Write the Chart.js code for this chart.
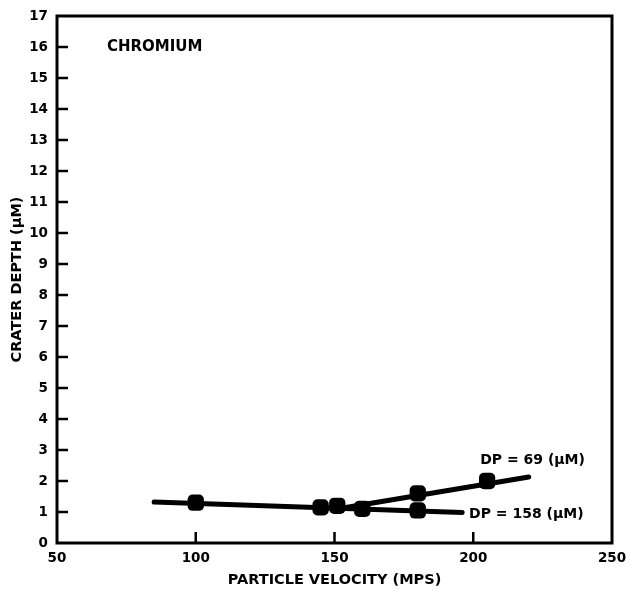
<!DOCTYPE html>
<html><head><meta charset="utf-8">
<script src="https://cdn.jsdelivr.net/npm/chart.js@4"></script>
<style>html,body{margin:0;padding:0;background:#fff}#wrap{width:631px;height:594px}</style>
</head><body><div id="wrap"><canvas id="c" width="631" height="594"></canvas></div>
<script>
// Measured data points
const dp158X = [100, 145, 151, 160, 180];
const dp158Y = [1.3, 1.15, 1.2, 1.1, 1.05];
const dp69X = [180, 205];
const dp69Y = [1.6, 2.0];
// Fitted lines (end points as drawn)
const fit158X = [85, 196];
const fit158Y = [1.32, 0.98];
const fit69X = [153, 220];
const fit69Y = [1.13, 2.13];
// Axis ticks
const xTicks = [50, 100, 150, 200, 250];
const yMax = 17;
const labels = ["DP = 69 (\u03bcM)", "DP = 158 (\u03bcM)", "CHROMIUM"];

const pts = (xs, ys) => xs.map((x, i) => ({x, y: ys[i]}));
const FONT = "'DejaVu Sans', sans-serif";

const frame = {
  id: 'frame',
  afterDraw(chart) {
    const {ctx, chartArea: a, scales: {x, y}} = chart;
    ctx.save();
    ctx.strokeStyle = '#000';
    ctx.lineWidth = 3;
    ctx.strokeRect(a.left, a.top, a.right - a.left, a.bottom - a.top);
    ctx.lineWidth = 2.5;
    ctx.beginPath();
    for (let v = 1; v < yMax; v++) {
      const py = y.getPixelForValue(v);
      ctx.moveTo(a.left, py); ctx.lineTo(a.left + 11, py);
    }
    xTicks.slice(1, -1).forEach(v => {
      const px = x.getPixelForValue(v);
      ctx.moveTo(px, a.bottom); ctx.lineTo(px, a.bottom - 11);
    });
    ctx.stroke();
    ctx.fillStyle = '#000';
    ctx.font = 'bold 14px ' + FONT;
    ctx.textBaseline = 'middle';
    ctx.fillText(labels[0], x.getPixelForValue(202.5), y.getPixelForValue(2.67));
    ctx.fillText(labels[1], x.getPixelForValue(198.5), y.getPixelForValue(0.93));
    ctx.font = 'bold 15px ' + FONT;
    ctx.fillText(labels[2], x.getPixelForValue(68), y.getPixelForValue(16.0));
    ctx.restore();
  }
};

new Chart(document.getElementById('c'), {
  type: 'scatter',
  data: {
    datasets: [
      {data: pts(fit158X, fit158Y), showLine: true, borderColor: '#000', borderWidth: 5, pointRadius: 0, borderCapStyle: 'round'},
      {data: pts(fit69X, fit69Y), showLine: true, borderColor: '#000', borderWidth: 5, pointRadius: 0, borderCapStyle: 'round'},
      {data: pts(dp158X, dp158Y), pointStyle: 'rectRounded', pointRadius: 9.5, backgroundColor: '#000', borderColor: '#000', borderWidth: 0},
      {data: pts(dp69X, dp69Y), pointStyle: 'rectRounded', pointRadius: 9.5, backgroundColor: '#000', borderColor: '#000', borderWidth: 0}
    ]
  },
  options: {
    responsive: false,
    animation: false,
    layout: {padding: {top: 16, right: 19, left: 0, bottom: 0}},
    plugins: {legend: {display: false}, tooltip: {enabled: false}},
    scales: {
      x: {
        type: 'linear', min: 50, max: 250,
        afterBuildTicks: s => { s.ticks = xTicks.map(v => ({value: v})); },
        afterFit: s => { s.height = 51; s.paddingLeft = 0; s.paddingRight = 0; },
        grid: {display: false, drawTicks: false},
        border: {display: false},
        ticks: {color: '#000', padding: 7, font: {family: FONT, weight: 'bold', size: 13.5}},
        title: {display: true, text: 'PARTICLE VELOCITY (MPS)', color: '#000', padding: {top: 0, bottom: 5}, font: {family: FONT, weight: 'bold', size: 14.5}}
      },
      y: {
        type: 'linear', min: 0, max: yMax,
        afterFit: s => { s.width = 57; s.paddingTop = 0; s.paddingBottom = 0; },
        grid: {display: false, drawTicks: false},
        border: {display: false},
        ticks: {stepSize: 1, color: '#000', padding: 9, font: {family: FONT, weight: 'bold', size: 13.5}},
        title: {display: true, text: 'CRATER DEPTH (\u03bcM)', color: '#000', padding: {top: 9, bottom: 0}, font: {family: FONT, weight: 'bold', size: 14.5}}
      }
    }
  },
  plugins: [frame]
});
</script></body></html>
